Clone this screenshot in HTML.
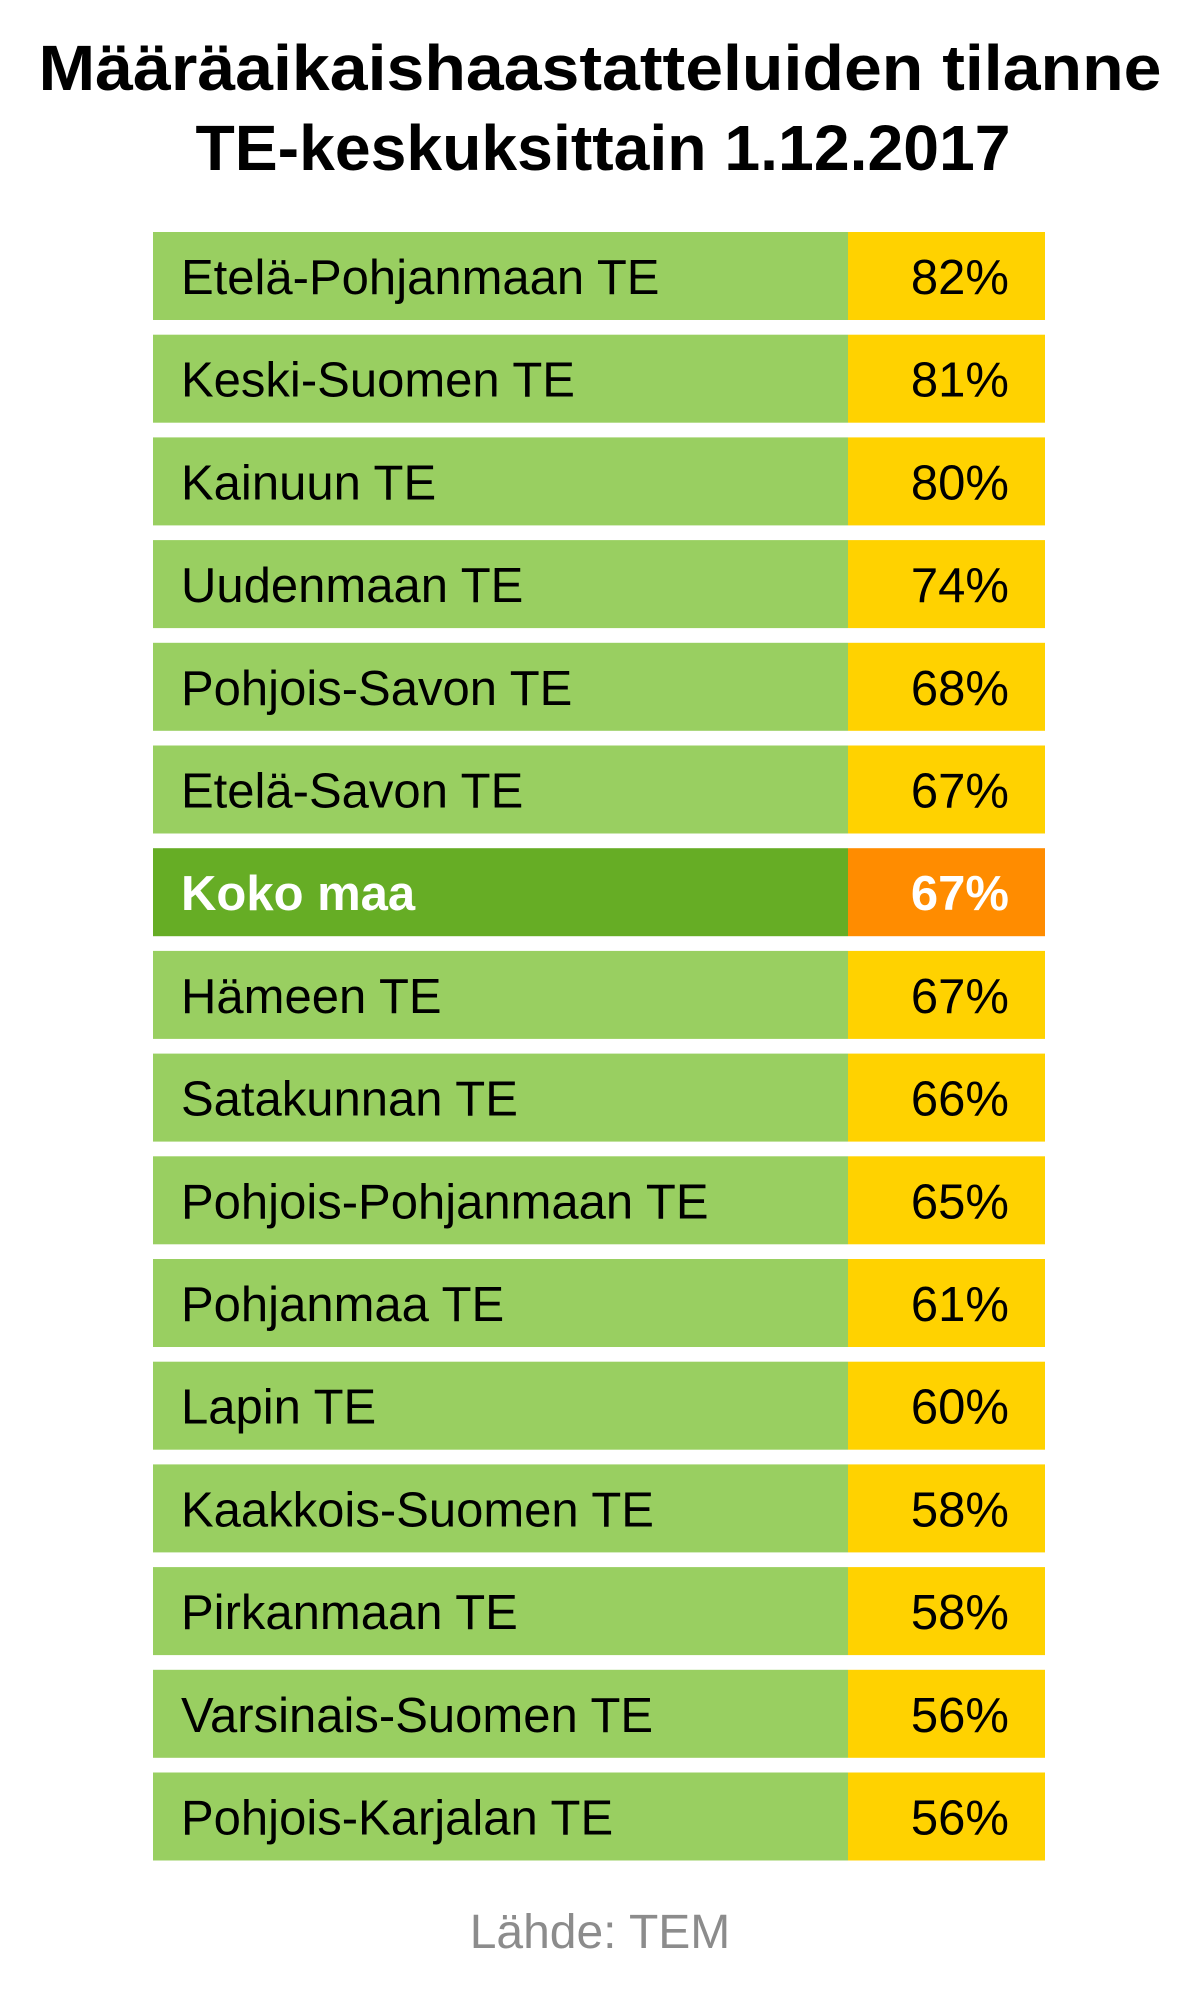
<!DOCTYPE html>
<html><head><meta charset="utf-8"><style>
html,body{margin:0;padding:0;background:#fff;}
svg{display:block;font-family:"Liberation Sans",sans-serif;}
</style></head><body>
<svg id="chart" width="1199" height="2002" viewBox="0 0 1199 2002" xmlns="http://www.w3.org/2000/svg">
<text x="600" y="90" text-anchor="middle" font-size="64" font-weight="bold" fill="#000" textLength="1123" lengthAdjust="spacingAndGlyphs">Määräaikaishaastatteluiden tilanne</text>
<text x="603" y="170" text-anchor="middle" font-size="64" font-weight="bold" fill="#000" textLength="815" lengthAdjust="spacingAndGlyphs">TE-keskuksittain 1.12.2017</text>
<g id="rows"></g>
<text x="600" y="1948" text-anchor="middle" font-size="48" fill="#8c8c8c">Lähde: TEM</text>
</svg>
<script>
const categories = ["Etelä-Pohjanmaan TE","Keski-Suomen TE","Kainuun TE","Uudenmaan TE","Pohjois-Savon TE","Etelä-Savon TE","Koko maa","Hämeen TE","Satakunnan TE","Pohjois-Pohjanmaan TE","Pohjanmaa TE","Lapin TE","Kaakkois-Suomen TE","Pirkanmaan TE","Varsinais-Suomen TE","Pohjois-Karjalan TE"];
const values = [82,81,80,74,68,67,67,67,66,65,61,60,58,58,56,56];
const highlight = ["Koko maa"];

const NS = "http://www.w3.org/2000/svg";
const g = document.getElementById("rows");
const top0 = 232, pitch = 102.7, rowH = 88;
const xL = 153, xSplit = 848, xR = 1045;
function rowY(i){ return top0 + i * pitch; }
categories.forEach(function(cat, i){
  const hi = highlight.indexOf(cat) >= 0;
  const y = rowY(i);
  const grp = document.createElementNS(NS, "g");
  
  
  const r1 = document.createElementNS(NS, "rect");
  
  
  r1.setAttribute("x", xL); r1.setAttribute("y", y);
  r1.setAttribute("width", xSplit - xL); r1.setAttribute("height", rowH);
  r1.setAttribute("fill", hi ? "#66ad25" : "#99cf61");
  grp.appendChild(r1);
  const r2 = document.createElementNS(NS, "rect");
  
  
  r2.setAttribute("x", xSplit); r2.setAttribute("y", y);
  r2.setAttribute("width", xR - xSplit); r2.setAttribute("height", rowH);
  r2.setAttribute("fill", hi ? "#ff8c00" : "#ffd200");
  grp.appendChild(r2);
  const t1 = document.createElementNS(NS, "text");
  
  
  t1.setAttribute("x", 181); t1.setAttribute("y", y + 62);
  t1.setAttribute("font-size", "49");
  t1.setAttribute("fill", hi ? "#fff" : "#000");
  if (hi) t1.setAttribute("font-weight", "bold");
  t1.textContent = cat;
  grp.appendChild(t1);
  const t2 = document.createElementNS(NS, "text");
  
  
  t2.setAttribute("x", 1009); t2.setAttribute("y", y + 62);
  t2.setAttribute("font-size", "49");
  t2.setAttribute("text-anchor", "end");
  t2.setAttribute("fill", hi ? "#fff" : "#000");
  if (hi) t2.setAttribute("font-weight", "bold");
  t2.textContent = values[i] + "%";
  grp.appendChild(t2);
  g.appendChild(grp);
});
</script>
</body></html>
